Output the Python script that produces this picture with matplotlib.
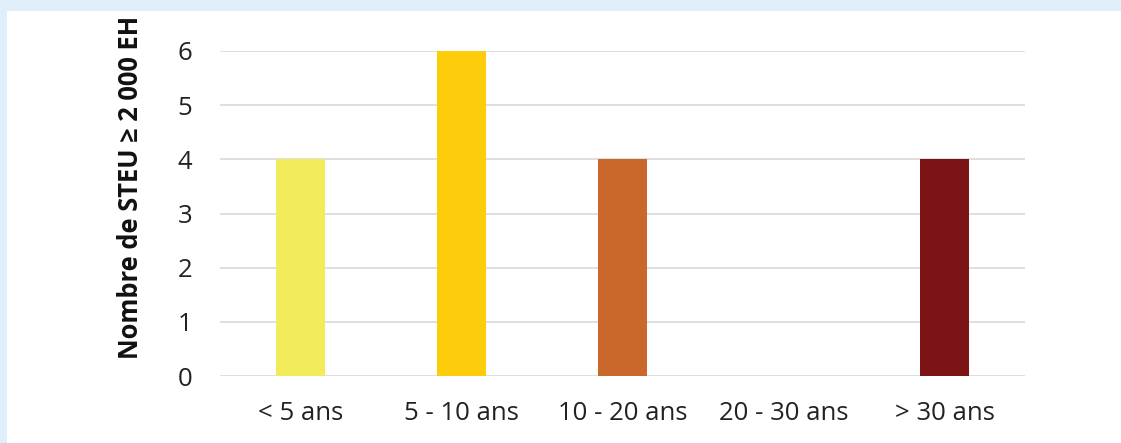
import matplotlib
matplotlib.use("Agg")
import matplotlib.pyplot as plt
from matplotlib.patches import Rectangle

categories = ["< 5 ans", "5 - 10 ans", "10 - 20 ans", "20 - 30 ans", "> 30 ans"]
values = [4, 6, 4, 0, 4]
colors = ["#f2eb5c", "#fdcd0b", "#c9682a", "#9e3a1e", "#7c1416"]
yticks = [0, 1, 2, 3, 4, 5, 6]
ylabel = "Nombre de STEU \u2265 2 000 EH"

W, H = 1121, 443
fig = plt.figure(figsize=(W / 100, H / 100), dpi=100)
fig.patch.set_facecolor("#dfeef8")
fig.patches.append(Rectangle((7 / W, 0), 1 - 7 / W, 1 - 11 / H,
                             transform=fig.transFigure, facecolor="white",
                             edgecolor="none", zorder=-5))

ax = fig.add_axes([220 / W, 1 - 376 / H, (1025 - 220) / W, (376 - 51) / H])
ax.set_zorder(2)
ax.set_facecolor("none")
x = range(len(categories))
ax.bar(x, values, width=0.305, color=colors, zorder=3)
ax.set_xlim(-0.5, len(categories) - 0.5)
ax.set_ylim(0, 6)
ax.set_yticks(yticks)
ax.set_xticks(list(x))
ax.set_xticklabels(categories)
ax.yaxis.grid(True, color="#d9d9d9", linewidth=1.2, zorder=0)
ax.set_axisbelow(True)
for s in ax.spines.values():
    s.set_visible(False)
ax.tick_params(axis="both", length=0, labelsize=18.5, colors="#222222",
               labelfontfamily="Open Sans")
ax.tick_params(axis="y", pad=20)
ax.tick_params(axis="x", pad=18)

fig.text(130 / W, 1 - 187 / H, ylabel, rotation=90, ha="center", va="center",
         fontsize=18.4, fontweight="bold", family="Open Sans", color="#111111",
         zorder=5)

fig.savefig("out.png", dpi=100, facecolor=fig.get_facecolor())
